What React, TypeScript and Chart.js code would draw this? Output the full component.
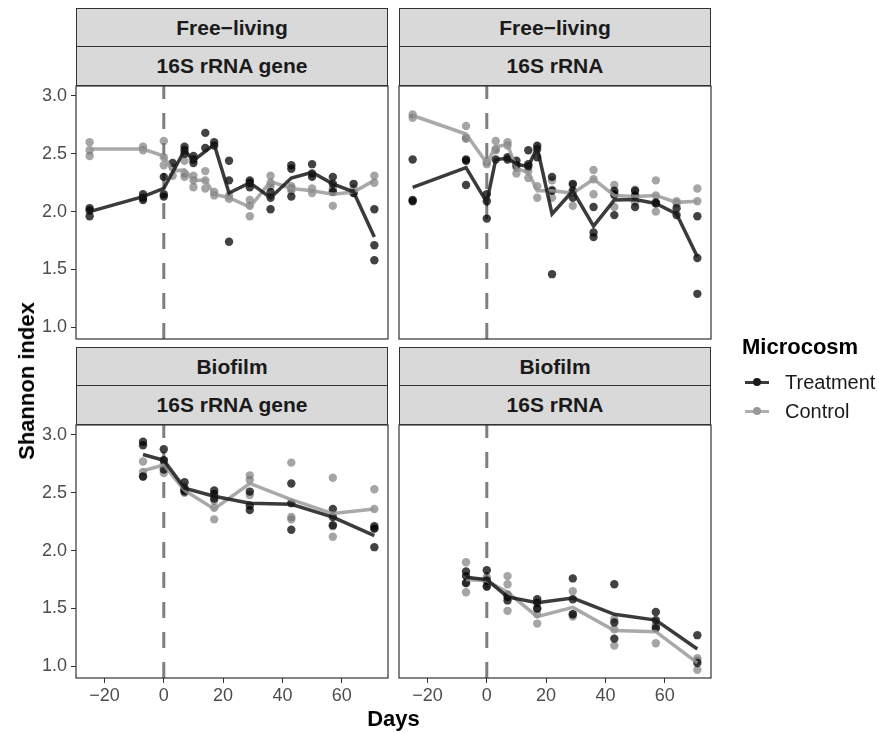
import React, { useEffect, useRef } from 'react';
import { Chart, registerables } from 'chart.js';

Chart.register(...registerables);

const FONT = '"Liberation Sans", Arial, Helvetica, sans-serif';
const W = 879;
const H = 733;

// ---------- data ----------
const daysFree = [-25, -7, 0, 3, 7, 10, 14, 17, 22, 29, 36, 43, 50, 57, 64, 71];
const daysBio = [-7, 0, 7, 17, 29, 43, 57, 71];

// Free-living, 16S rRNA gene
const flGeneTreatPts = [
  [2.03, 2.01, 1.96], [2.15, 2.12, 2.10], [2.30, 2.15, 2.13], [2.42], [2.56, 2.53, 2.50],
  [2.48, 2.45, 2.42], [2.68, 2.55], [2.60, 2.57], [2.44, 2.27, 1.74], [2.27, 2.25, 2.21],
  [2.17, 2.12, 2.02], [2.40, 2.37, 2.13], [2.41, 2.33, 2.30], [2.30, 2.24, 2.17], [2.24, 2.16],
  [2.02, 1.71, 1.58],
];
const flGeneTreatMean = [2.0, 2.13, 2.2, 2.34, 2.53, 2.44, 2.52, 2.58, 2.16, 2.25, 2.12, 2.29, 2.34, 2.24, 2.17, 1.78];
const flGeneCtrlPts = [
  [2.60, 2.53, 2.48], [2.56, 2.53], [2.61, 2.47, 2.40], [2.38, 2.31], [2.44, 2.33, 2.30],
  [2.31, 2.27, 2.21], [2.35, 2.27, 2.20], [2.17, 2.14], [2.14, 2.11], [2.10, 2.05, 1.96],
  [2.31, 2.25, 2.22], [2.22, 2.20, 2.18], [2.20, 2.16], [2.20, 2.18, 2.05], [2.20, 2.16],
  [2.31, 2.25],
];
const flGeneCtrlMean = [2.54, 2.54, 2.48, 2.35, 2.36, 2.27, 2.27, 2.15, 2.12, 2.04, 2.26, 2.2, 2.18, 2.15, 2.17, 2.27];

// Free-living, 16S rRNA
const flRnaTreatPts = [
  [2.45, 2.10, 2.09], [2.45, 2.44, 2.23], [2.15, 2.09, 1.94], [2.45], [2.47, 2.45],
  [2.44, 2.40], [2.53, 2.41, 2.39], [2.57, 2.54, 2.47], [2.30, 2.18, 1.46], [2.24, 2.18, 2.12],
  [2.04, 1.82, 1.78], [2.18, 2.15, 1.97], [2.18, 2.14, 2.04], [2.08, 2.07], [2.03, 1.97],
  [1.96, 1.60, 1.29],
];
const flRnaTreatMean = [2.21, 2.38, 2.08, 2.45, 2.46, 2.41, 2.39, 2.555, 1.98, 2.18, 1.875, 2.1, 2.105, 2.07, 1.98, 1.61];
const flRnaCtrlPts = [
  [2.84, 2.81], [2.74, 2.64, 2.63], [2.43, 2.41], [2.61, 2.54, 2.53], [2.60, 2.57],
  [2.38, 2.33], [2.35, 2.29], [2.22, 2.12], [2.27, 2.19, 2.12], [2.23, 2.17, 2.05],
  [2.36, 2.28, 2.15], [2.23, 2.14, 2.04], [2.19, 2.13, 2.08], [2.27, 2.14, 2.00], [2.09, 2.07],
  [2.20, 2.09],
];
const flRnaCtrlMean = [2.83, 2.67, 2.42, 2.56, 2.58, 2.37, 2.34, 2.18, 2.18, 2.16, 2.28, 2.14, 2.13, 2.14, 2.08, 2.09];

// Biofilm, 16S rRNA gene
const bfGeneTreatPts = [
  [2.94, 2.91, 2.64], [2.875, 2.78, 2.70], [2.59, 2.53, 2.51], [2.52, 2.49, 2.45],
  [2.51, 2.39, 2.35], [2.58, 2.41, 2.18], [2.36, 2.29, 2.22], [2.21, 2.19, 2.03],
];
const bfGeneTreatMean = [2.83, 2.78, 2.54, 2.47, 2.41, 2.40, 2.29, 2.13];
const bfGeneCtrlPts = [
  [2.77, 2.68, 2.64], [2.78, 2.74, 2.67], [2.55, 2.52, 2.50], [2.43, 2.37, 2.27],
  [2.65, 2.61, 2.48], [2.76, 2.29, 2.27], [2.63, 2.21, 2.12], [2.53, 2.36, 2.19],
];
const bfGeneCtrlMean = [2.69, 2.74, 2.52, 2.36, 2.58, 2.44, 2.32, 2.36];

// Biofilm, 16S rRNA
const bfRnaTreatPts = [
  [1.82, 1.78, 1.72], [1.83, 1.74, 1.69], [1.62, 1.60, 1.57], [1.58, 1.55, 1.50],
  [1.76, 1.58, 1.45], [1.71, 1.38, 1.24], [1.47, 1.40, 1.33], [1.27, 1.03],
];
const bfRnaTreatMean = [1.77, 1.75, 1.60, 1.55, 1.59, 1.45, 1.40, 1.15];
const bfRnaCtrlPts = [
  [1.90, 1.72, 1.64], [1.77, 1.75, 1.69], [1.78, 1.71, 1.48], [1.50, 1.45, 1.37],
  [1.65, 1.45, 1.43], [1.41, 1.32, 1.18], [1.36, 1.34, 1.20], [1.07, 1.05, 0.97],
];
const bfRnaCtrlMean = [1.75, 1.74, 1.64, 1.43, 1.51, 1.31, 1.30, 1.03];

const xTicks = [-20, 0, 20, 40, 60];
const yTicks = [1.0, 1.5, 2.0, 2.5, 3.0];
const X_MIN = -29.6;
const X_MAX = 75.6;
const Y_MIN = 0.9;
const Y_MAX = 3.085;

// ---------- styles ----------
const TREAT_PT = 'rgba(0,0,0,0.74)';
const CTRL_PT = 'rgba(110,110,110,0.62)';
const TREAT_LINE = 'rgba(25,25,25,0.85)';
const CTRL_LINE = 'rgba(150,150,150,0.82)';

function toPoints(days: number[], groups: number[][]) {
  const out: { x: number; y: number }[] = [];
  days.forEach((d, i) => groups[i].forEach((v) => out.push({ x: d, y: v })));
  return out;
}
function toLine(days: number[], vals: number[]) {
  return days.map((d, i) => ({ x: d, y: vals[i] }));
}

const panelPlugin = {
  id: 'panelDeco',
  beforeDatasetsDraw(chart: any) {
    const { ctx, chartArea: a, scales } = chart;
    const px = scales.x.getPixelForValue(0);
    ctx.save();
    ctx.beginPath();
    ctx.setLineDash([16, 14]);
    ctx.lineWidth = 3;
    ctx.strokeStyle = '#7F7F7F';
    ctx.moveTo(px, a.bottom);
    ctx.lineTo(px, a.top);
    ctx.stroke();
    ctx.restore();
  },
  afterDraw(chart: any) {
    const { ctx, chartArea: a } = chart;
    ctx.save();
    ctx.strokeStyle = '#333333';
    ctx.lineWidth = 1.2;
    ctx.strokeRect(a.left, a.top, a.right - a.left, a.bottom - a.top);
    ctx.restore();
  },
};

type Area = { left: number; top: number; right: number; bottom: number };

function Panel(props: {
  area: Area;
  showX: boolean;
  showY: boolean;
  days: number[];
  tPts: number[][];
  tMean: number[];
  cPts: number[][];
  cMean: number[];
}) {
  const ref = useRef<HTMLCanvasElement | null>(null);
  useEffect(() => {
    const { area, showX, showY, days, tPts, tMean, cPts, cMean } = props;
    const yW = 50;
    const xH = 40;
    const chart = new Chart(ref.current as HTMLCanvasElement, {
      type: 'scatter',
      data: {
        datasets: [
          {
            type: 'line',
            data: toLine(days, tMean),
            borderColor: TREAT_LINE,
            borderWidth: 3.5,
            pointRadius: 0,
            fill: false,
            tension: 0,
          } as any,
          {
            type: 'line',
            data: toLine(days, cMean),
            borderColor: CTRL_LINE,
            borderWidth: 3.5,
            pointRadius: 0,
            fill: false,
            tension: 0,
          } as any,
          {
            type: 'scatter',
            data: toPoints(days, tPts),
            backgroundColor: TREAT_PT,
            borderWidth: 0,
            pointRadius: 4.2,
          },
          {
            type: 'scatter',
            data: toPoints(days, cPts),
            backgroundColor: CTRL_PT,
            borderWidth: 0,
            pointRadius: 4.2,
          },
        ],
      },
      options: {
        animation: false,
        responsive: false,
        maintainAspectRatio: false,
        layout: {
          padding: {
            left: showY ? area.left - yW : area.left,
            top: area.top,
            right: W - area.right,
            bottom: showX ? H - area.bottom - xH : H - area.bottom,
          },
        },
        plugins: { legend: { display: false }, tooltip: { enabled: false } },
        scales: {
          x: {
            type: 'linear',
            position: 'bottom',
            min: X_MIN,
            max: X_MAX,
            display: showX,
            afterBuildTicks: (s: any) => {
              s.ticks = xTicks.map((v) => ({ value: v }));
            },
            afterFit: (s: any) => {
              if (showX) s.height = xH;
            },
            ticks: {
              callback: (v: any) => (Number(v) < 0 ? '\u2212' + Math.abs(Number(v)) : String(v)),
              font: { family: FONT, size: 18 },
              color: '#4D4D4D',
              padding: 2,
              maxRotation: 0,
              autoSkip: false,
            },
            grid: { display: true, drawOnChartArea: false, drawTicks: true, tickLength: 5, color: '#333333', lineWidth: 1 },
            border: { display: false },
          },
          y: {
            type: 'linear',
            position: 'left',
            min: Y_MIN,
            max: Y_MAX,
            display: showY,
            afterBuildTicks: (s: any) => {
              s.ticks = yTicks.map((v) => ({ value: v }));
            },
            afterFit: (s: any) => {
              if (showY) s.width = yW;
            },
            ticks: {
              callback: (v: any) => Number(v).toFixed(1),
              font: { family: FONT, size: 18 },
              color: '#4D4D4D',
              padding: 4,
              autoSkip: false,
            },
            grid: { display: true, drawOnChartArea: false, drawTicks: true, tickLength: 5, color: '#333333', lineWidth: 1 },
            border: { display: false },
          },
        },
      },
      plugins: [panelPlugin],
    });
    return () => chart.destroy();
  }, []);
  return (
    <canvas
      ref={ref}
      width={W}
      height={H}
      style={{ position: 'absolute', left: 0, top: 0, width: W, height: H }}
    />
  );
}

function Strip(props: { left: number; top: number; height: number; text: string }) {
  return (
    <div
      style={{
        position: 'absolute',
        left: props.left,
        top: props.top,
        width: 312,
        height: props.height,
        boxSizing: 'border-box',
        border: '1px solid #333333',
        background: '#D9D9D9',
        display: 'flex',
        alignItems: 'center',
        justifyContent: 'center',
        fontWeight: 'bold',
        fontSize: 21,
        color: '#1A1A1A',
      }}
    >
      {props.text}
    </div>
  );
}

function LegendRow(props: { y: number; line: string; dot: string; label: string }) {
  return (
    <>
      <div style={{ position: 'absolute', left: 745, top: props.y - 1.5, width: 24, height: 3, background: props.line }} />
      <div
        style={{
          position: 'absolute',
          left: 753,
          top: props.y - 4,
          width: 8,
          height: 8,
          borderRadius: '50%',
          background: props.dot,
        }}
      />
      <div
        style={{
          position: 'absolute',
          left: 785,
          top: props.y,
          transform: 'translateY(-50%)',
          fontSize: 20,
          color: '#1A1A1A',
          whiteSpace: 'nowrap',
        }}
      >
        {props.label}
      </div>
    </>
  );
}

export default function App() {
  const TL: Area = { left: 76, top: 86, right: 388, bottom: 339 };
  const TR: Area = { left: 399, top: 86, right: 711, bottom: 339 };
  const BL: Area = { left: 76, top: 425, right: 388, bottom: 678 };
  const BR: Area = { left: 399, top: 425, right: 711, bottom: 678 };
  return (
    <div
      style={{
        position: 'fixed',
        left: 0,
        top: 0,
        width: W,
        height: H,
        background: '#FFFFFF',
        overflow: 'hidden',
        fontFamily: FONT,
      }}
    >
      <Panel area={TL} showX={false} showY={true} days={daysFree} tPts={flGeneTreatPts} tMean={flGeneTreatMean} cPts={flGeneCtrlPts} cMean={flGeneCtrlMean} />
      <Panel area={TR} showX={false} showY={false} days={daysFree} tPts={flRnaTreatPts} tMean={flRnaTreatMean} cPts={flRnaCtrlPts} cMean={flRnaCtrlMean} />
      <Panel area={BL} showX={true} showY={true} days={daysBio} tPts={bfGeneTreatPts} tMean={bfGeneTreatMean} cPts={bfGeneCtrlPts} cMean={bfGeneCtrlMean} />
      <Panel area={BR} showX={true} showY={false} days={daysBio} tPts={bfRnaTreatPts} tMean={bfRnaTreatMean} cPts={bfRnaCtrlPts} cMean={bfRnaCtrlMean} />

      <Strip left={76} top={8} height={39} text={'Free\u2212living'} />
      <Strip left={76} top={46} height={40} text="16S rRNA gene" />
      <Strip left={399} top={8} height={39} text={'Free\u2212living'} />
      <Strip left={399} top={46} height={40} text="16S rRNA" />
      <Strip left={76} top={347} height={39} text="Biofilm" />
      <Strip left={76} top={385} height={40} text="16S rRNA gene" />
      <Strip left={399} top={347} height={39} text="Biofilm" />
      <Strip left={399} top={385} height={40} text="16S rRNA" />

      <div
        style={{
          position: 'absolute',
          left: 27,
          top: 381,
          transform: 'translate(-50%, -50%) rotate(-90deg)',
          fontWeight: 'bold',
          fontSize: 22,
          color: '#000000',
          whiteSpace: 'nowrap',
        }}
      >
        Shannon index
      </div>
      <div
        style={{
          position: 'absolute',
          left: 393.5,
          top: 719,
          transform: 'translate(-50%, -50%)',
          fontWeight: 'bold',
          fontSize: 22,
          color: '#000000',
          whiteSpace: 'nowrap',
        }}
      >
        Days
      </div>

      <div
        style={{
          position: 'absolute',
          left: 742,
          top: 347,
          transform: 'translateY(-50%)',
          fontWeight: 'bold',
          fontSize: 22,
          color: '#000000',
          whiteSpace: 'nowrap',
        }}
      >
        Microcosm
      </div>
      <LegendRow y={382} line="#3A3A3A" dot="#1A1A1A" label="Treatment" />
      <LegendRow y={411} line="#AFAFAF" dot="#999999" label="Control" />
    </div>
  );
}
